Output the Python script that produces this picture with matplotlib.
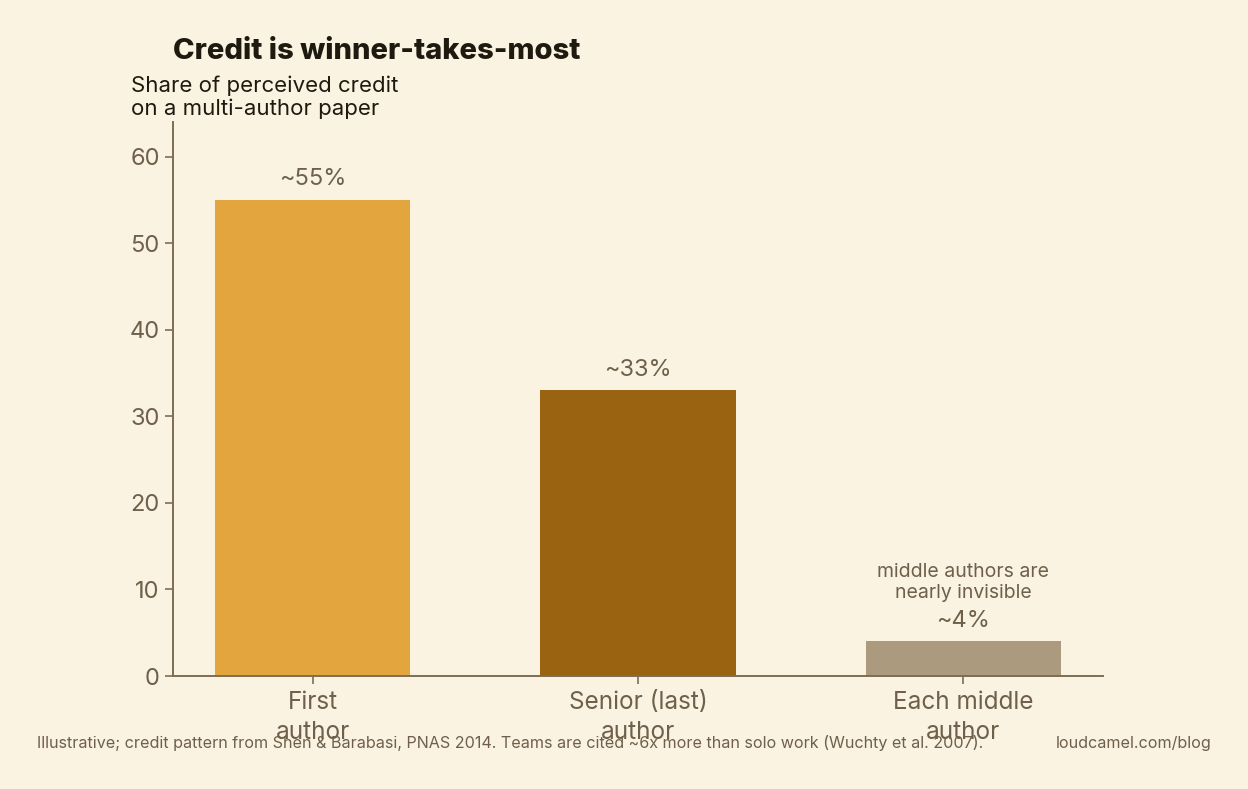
import matplotlib
matplotlib.use('Agg')
import matplotlib.pyplot as plt

# data
roles = ['First\nauthor', 'Senior (last)\nauthor', 'Each middle\nauthor']
credit = [55, 33, 4]
labels = ['~55%', '~33%', '~4%']
colors = ['#E3A53D', '#9A6312', '#AB9A7E']

BG = '#FAF3E1'
INK = '#6E604A'
SPINE = '#7D6D55'

plt.rcParams['font.family'] = ['Inter', 'DejaVu Sans']

fig = plt.figure(figsize=(12.48, 7.89), dpi=100, facecolor=BG)
ax = fig.add_axes([0.1386, 0.1432, 0.7452, 0.7022], facecolor=BG)

x = range(len(roles))
ax.bar(x, credit, width=0.6, color=colors, zorder=2)
for xi, v, lab in zip(x, credit, labels):
    ax.text(xi, v + 1.1, lab, ha='center', va='bottom', fontsize=17, color=INK)

ax.text(2, 8.6, 'middle authors are\nnearly invisible', ha='center', va='bottom',
        fontsize=14, color=INK, linespacing=1.15)

ax.set_xlim(-0.43, 2.43)
ax.set_ylim(0, 64)
ax.set_yticks([0, 10, 20, 30, 40, 50, 60])
ax.set_xticks(list(x))
ax.set_xticklabels(roles, fontsize=17.5, color=INK, linespacing=1.35)
ax.tick_params(axis='y', labelsize=17, labelcolor=INK, color=SPINE, length=6, width=1.2)
ax.tick_params(axis='x', color=SPINE, length=6, width=1.2, pad=5)

for s in ['top', 'right']:
    ax.spines[s].set_visible(False)
for s in ['left', 'bottom']:
    ax.spines[s].set_color(SPINE)
    ax.spines[s].set_linewidth(1.4)

fig.text(0.1386, 0.935, 'Credit is winner-takes-most', fontsize=21, fontweight='heavy',
         color='#1E1A10', ha='left', va='center')
fig.text(0.105, 0.877, 'Share of perceived credit\non a multi-author paper', fontsize=16,
         color='#1E1A10', ha='left', va='center', linespacing=1.15)

fig.text(0.030, 0.058, 'Illustrative; credit pattern from Shen & Barabasi, PNAS 2014. '
         'Teams are cited ~6x more than solo work (Wuchty et al. 2007).',
         fontsize=11.6, color=INK, ha='left', va='center')
fig.text(0.971, 0.058, 'loudcamel.com/blog', fontsize=11.6, color=INK,
         ha='right', va='center')

fig.savefig('out.png', dpi=100, facecolor=BG)
